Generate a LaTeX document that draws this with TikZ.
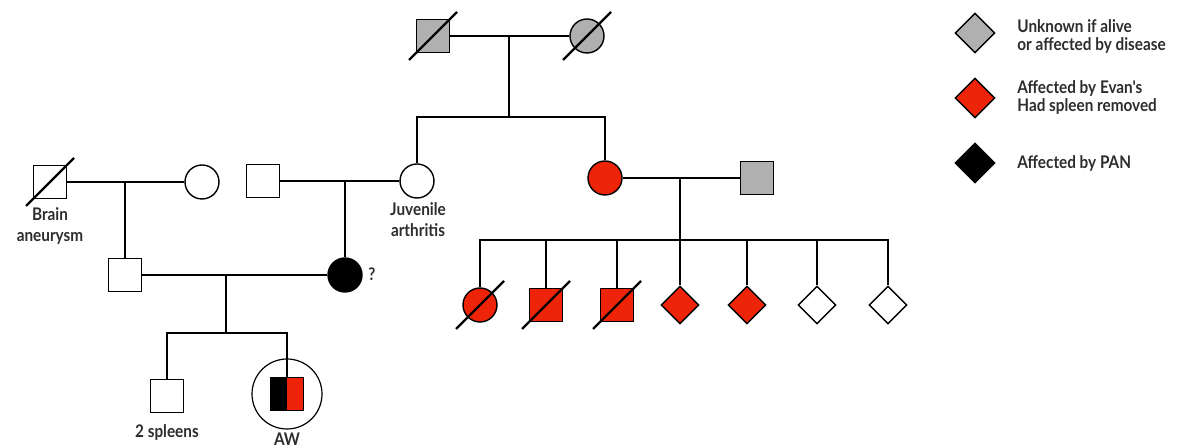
\documentclass[tikz,border=0pt]{standalone}
\usepackage{fontspec}
\newfontfamily\pedfont[FakeStretch=0.88]{Lato}
\usetikzlibrary{shapes.geometric}
\definecolor{pedred}{RGB}{238,36,8}
\definecolor{pedgrey}{RGB}{176,176,176}
\definecolor{pedtext}{RGB}{45,45,45}

\begin{document}
\begin{tikzpicture}[x=0.5pt,y=-0.5pt]
        \tikzstyle{every node}+=[inner sep=0pt]
        \tikzstyle{male}=[draw,rectangle,minimum size=16.5pt,line width=0.7pt,fill=white]
        \tikzstyle{female}=[draw,circle,minimum size=17pt,line width=0.7pt,fill=white]
        \tikzstyle{unknown}=[draw,diamond,minimum size=19pt,line width=0.7pt,fill=white]
        \tikzstyle{legenditem}=[draw,diamond,minimum size=20pt,line width=0.7pt]
        \tikzstyle{kin}=[line width=1.4pt]
        \tikzstyle{slash}=[line width=1.2pt]
        \tikzstyle{lbl}=[font=\pedfont\bfseries\fontsize{8.7}{10.5}\selectfont,text=pedtext,align=center]
        \tikzstyle{legendtext}=[font=\pedfont\bfseries\fontsize{8.7}{9}\selectfont,text=pedtext,align=left,anchor=west]
        \useasboundingbox (0,0) rectangle (1185,448);
        \node[male,fill=pedgrey] (gf) at (433,36) {};
        \node[female,fill=pedgrey] (gm) at (587,36) {};
        \node[female] (ja) at (417,181) {};
        \node[female,fill=pedred] (rm) at (605,178) {};
        \node[male,fill=pedgrey] (rf) at (757,178) {};
        \node[male] (ba) at (50,182) {};
        \node[female] (bw) at (202,182) {};
        \node[male] (jh) at (263,181) {};
        \node[male] (fa) at (125,275) {};
        \node[female,fill=black] (mo) at (345,275) {};
        \node[male] (sp) at (167,396) {};
        \node[male,path picture={
                \fill[black] (path picture bounding box.south west) rectangle (path picture bounding box.north);
                \fill[pedred] (path picture bounding box.south) rectangle (path picture bounding box.north east);
        }] (aw) at (287,394) {};
        \node[draw,circle,minimum size=35pt,line width=0.6pt] (awring) at (287,394) {};
        \node[female,fill=pedred] (k1) at (480,305) {};
        \node[male,fill=pedred] (k2) at (546,305) {};
        \node[male,fill=pedred] (k3) at (617,305) {};
        \node[unknown,fill=pedred] (k4) at (680,305) {};
        \node[unknown,fill=pedred] (k5) at (747,305) {};
        \node[unknown] (k6) at (817,305) {};
        \node[unknown] (k7) at (888,305) {};
        \coordinate (mA) at (509,36);
        \coordinate (sA) at (509,117);
        \coordinate (mB) at (125,182);
        \coordinate (mC) at (345,181);
        \coordinate (mD) at (680,178);
        \coordinate (sD) at (680,240);
        \coordinate (mE) at (226,275);
        \coordinate (sE) at (226,333);
        \draw[kin] (gf) -- (gm);
        \draw[kin] (mA) -- (sA);
        \draw[kin] (ja) |- (sA) -| (rm);
        \draw[kin] (ba) -- (bw);
        \draw[kin] (mB) -- (fa);
        \draw[kin] (jh) -- (ja);
        \draw[kin] (mC) -- (mo);
        \draw[kin] (fa) -- (mo);
        \draw[kin] (mE) -- (sE);
        \draw[kin] (sp) |- (sE) -| (aw);
        \draw[kin] (rm) -- (rf);
        \draw[kin] (mD) -- (sD);
        \draw[kin] (k1) |- (sD) -| (k7);
        \foreach \k in {k2,k3,k4,k5,k6}
                \draw[kin] (\k) -- (\k |- sD);
        \foreach \n in {gf,gm,ba,k1,k2,k3}
                \draw[slash] (\n) ++(-24,24) -- ++(48,-48);
        \node[lbl] (balbl) at (50,226) {Brain\\aneurysm};
        \node[lbl] (jalbl) at (418,220) {Juvenile\\arthritis};
        \node[lbl] (qlbl) at (372,274) {?};
        \node[lbl] (splbl) at (167,432) {2 spleens};
        \node[lbl] (awlbl) at (287,439) {AW};
        \node[legenditem,fill=pedgrey] (lg1) at (975,33) {};
        \node[legenditem,fill=pedred] (lg2) at (975,98) {};
        \node[legenditem,fill=black] (lg3) at (975,163) {};
        \node[legendtext] (lt1) at (1017,36) {Unknown if alive\\or affected by disease};
        \node[legendtext] (lt2) at (1017,97) {Affected by Evan's\\Had spleen removed};
        \node[legendtext] (lt3) at (1017,163) {Affected by PAN};
\end{tikzpicture}
\end{document}
